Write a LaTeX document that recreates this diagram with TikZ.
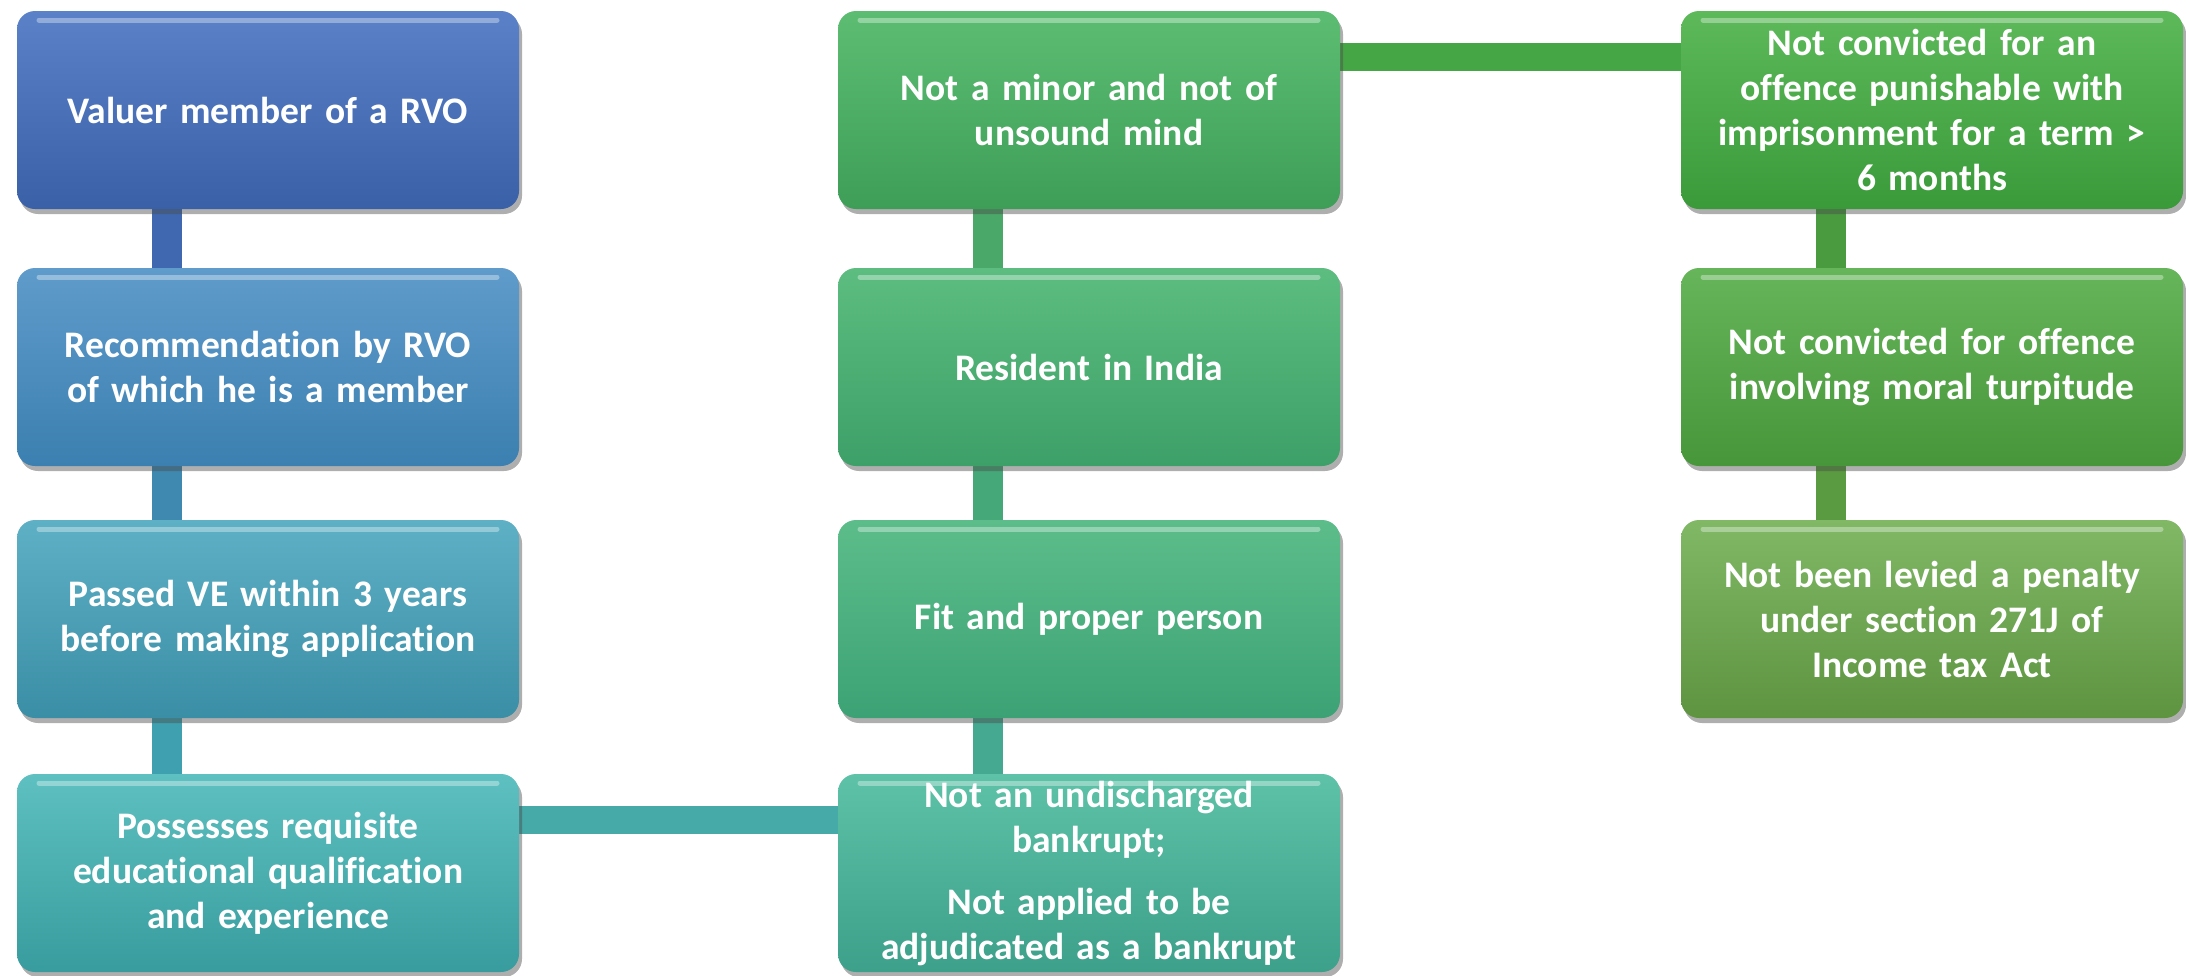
\documentclass[tikz,border=0pt]{standalone}
\usepackage{fontspec}
\setmainfont{Carlito}[Ligatures=NoCommon]
\usetikzlibrary{shadows,backgrounds}
\tikzset{
  box/.style 2 args={rectangle, rounded corners=18pt, minimum width=502pt, minimum height=198pt,
    inner sep=0pt, text width=498pt, align=center, text=white,
    font=\fontsize{37.5}{45}\selectfont\bfseries,
    top color=#1, bottom color=#2,
    drop shadow={shadow xshift=3pt, shadow yshift=-5pt, opacity=0.45, fill=black!70},
    path picture={\draw[white, opacity=0.35, line width=5pt, line cap=round]
      ([xshift=22pt,yshift=-9pt]path picture bounding box.north west) --
      ([xshift=-22pt,yshift=-9pt]path picture bounding box.north east);}},
  conn/.style={line width=30pt, draw=#1, line cap=butt},
  hconn/.style={line width=28pt, draw=#1, line cap=butt},
}
\definecolor{cA}{HTML}{3F68B0}
\definecolor{cB}{HTML}{3F88B0}
\definecolor{cC}{HTML}{3FA0B0}
\definecolor{cD}{HTML}{45AAA8}
\definecolor{cE}{HTML}{4AA868}
\definecolor{cF}{HTML}{45A878}
\definecolor{cG}{HTML}{45A890}
\definecolor{cH}{HTML}{45A645}
\definecolor{cI}{HTML}{4A9A40}
\definecolor{cJ}{HTML}{5A9A40}
\definecolor{a1t}{HTML}{5B82C9}\definecolor{a1b}{HTML}{3A60A8}
\definecolor{a2t}{HTML}{5F9BCB}\definecolor{a2b}{HTML}{3B80B0}
\definecolor{a3t}{HTML}{5EB0C5}\definecolor{a3b}{HTML}{3A8EA5}
\definecolor{a4t}{HTML}{5EC0C0}\definecolor{a4b}{HTML}{389C9E}
\definecolor{b1t}{HTML}{5CBD72}\definecolor{b1b}{HTML}{3E9E58}
\definecolor{b2t}{HTML}{5DBD80}\definecolor{b2b}{HTML}{3DA068}
\definecolor{b3t}{HTML}{5CBD8A}\definecolor{b3b}{HTML}{3CA275}
\definecolor{b4t}{HTML}{5EC2A8}\definecolor{b4b}{HTML}{3CA08A}
\definecolor{c1t}{HTML}{5DB95A}\definecolor{c1b}{HTML}{3A9A3A}
\definecolor{c2t}{HTML}{66B55A}\definecolor{c2b}{HTML}{48963A}
\definecolor{c3t}{HTML}{80B866}\definecolor{c3b}{HTML}{5E9440}
\begin{document}
\begin{tikzpicture}[x=1pt,y=-1pt]
\useasboundingbox (0,0) rectangle (2186,975);
% column 1
\node[box={a1t}{a1b}] (a1) at (268,110) {Valuer member of a RVO};
\node[box={a2t}{a2b}] (a2) at (268,367) {Recommendation by RVO\\of which he is a member};
\node[box={a3t}{a3b}] (a3) at (268,619) {Passed VE within 3 years\\before making application};
\node[box={a4t}{a4b}] (a4) at (268,873) {Possesses requisite\\educational qualification\\and experience};
% column 2
\node[box={b1t}{b1b}] (b1) at (1089,110) {Not a minor and not of\\unsound mind};
\node[box={b2t}{b2b}] (b2) at (1089,367) {Resident in India};
\node[box={b3t}{b3b}] (b3) at (1089,619) {Fit and proper person};
\node[box={b4t}{b4b}] (b4) at (1089,873) {Not an undischarged\\bankrupt;\\[17pt]Not applied to be\\adjudicated as a bankrupt};
% column 3
\node[box={c1t}{c1b}] (c1) at (1932,110) {Not convicted for an\\offence punishable with\\imprisonment for a term >\\6 months};
\node[box={c2t}{c2b}] (c2) at (1932,367) {Not convicted for offence\\involving moral turpitude};
\node[box={c3t}{c3b}] (c3) at (1932,619) {Not been levied a penalty\\under section 271J of\\Income tax Act};
\begin{scope}[on background layer]
  \draw[conn=cA] ([xshift=150pt,yshift=5pt]a1.south west) -- ([xshift=150pt,yshift=-5pt]a2.north west);
  \draw[conn=cB] ([xshift=150pt,yshift=5pt]a2.south west) -- ([xshift=150pt,yshift=-5pt]a3.north west);
  \draw[conn=cC] ([xshift=150pt,yshift=5pt]a3.south west) -- ([xshift=150pt,yshift=-5pt]a4.north west);
  \draw[hconn=cD] ([xshift=-5pt,yshift=-46pt]a4.north east) -- ([xshift=5pt,yshift=-46pt]b4.north west);
  \draw[conn=cE] ([xshift=150pt,yshift=5pt]b1.south west) -- ([xshift=150pt,yshift=-5pt]b2.north west);
  \draw[conn=cF] ([xshift=150pt,yshift=5pt]b2.south west) -- ([xshift=150pt,yshift=-5pt]b3.north west);
  \draw[conn=cG] ([xshift=150pt,yshift=5pt]b3.south west) -- ([xshift=150pt,yshift=-5pt]b4.north west);
  \draw[hconn=cH] ([xshift=-5pt,yshift=-46pt]b1.north east) -- ([xshift=5pt,yshift=-46pt]c1.north west);
  \draw[conn=cI] ([xshift=150pt,yshift=5pt]c1.south west) -- ([xshift=150pt,yshift=-5pt]c2.north west);
  \draw[conn=cJ] ([xshift=150pt,yshift=5pt]c2.south west) -- ([xshift=150pt,yshift=-5pt]c3.north west);
\end{scope}
\end{tikzpicture}
\end{document}
